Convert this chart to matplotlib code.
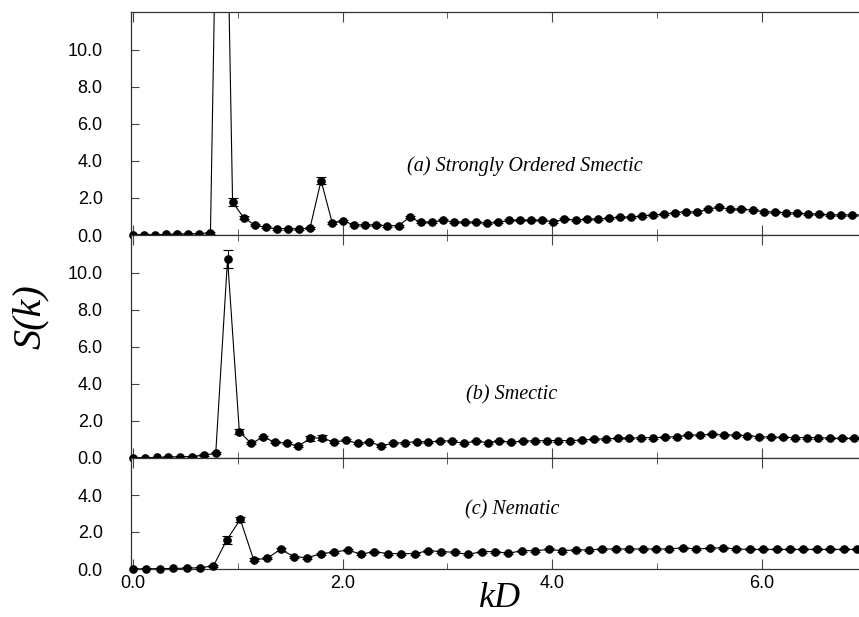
import matplotlib
matplotlib.use("Agg")
import matplotlib.pyplot as plt
from matplotlib.ticker import MultipleLocator, FixedLocator
import numpy as np

# k grid spacing (kD units) for each system
dk_a = 0.1056
dk_b = 0.1128
dk_c = 0.1280

# S(k), point 8 of (a) is far off scale
s_a = [0.00, 0.01, 0.02, 0.03, 0.04, 0.05, 0.07, 0.12, 35.0, 1.77,
       0.94, 0.54, 0.41, 0.34, 0.34, 0.32, 0.38, 2.94, 0.67, 0.76,
       0.54, 0.54, 0.54, 0.50, 0.50, 0.96, 0.69, 0.69, 0.81, 0.69,
       0.69, 0.69, 0.63, 0.69, 0.79, 0.79, 0.79, 0.79, 0.72, 0.85,
       0.81, 0.85, 0.86, 0.90, 0.96, 0.96, 1.03, 1.08, 1.12, 1.21,
       1.26, 1.23, 1.41, 1.50, 1.39, 1.39, 1.35, 1.26, 1.23, 1.21,
       1.17, 1.14, 1.12, 1.08, 1.08, 1.08, 1.06]
s_b = [0.02, 0.02, 0.03, 0.05, 0.07, 0.08, 0.16, 0.25, 10.76, 1.42,
       0.79, 1.12, 0.87, 0.79, 0.65, 1.06, 1.10, 0.85, 0.97, 0.79,
       0.85, 0.67, 0.79, 0.83, 0.88, 0.86, 0.92, 0.92, 0.79, 0.92,
       0.83, 0.92, 0.85, 0.92, 0.92, 0.94, 0.94, 0.94, 0.97, 1.01,
       1.03, 1.06, 1.06, 1.10, 1.10, 1.12, 1.15, 1.24, 1.24, 1.28,
       1.24, 1.24, 1.21, 1.15, 1.12, 1.12, 1.10, 1.10, 1.10, 1.06,
       1.06, 1.06, 1.05]
s_c = [0.00, 0.01, 0.02, 0.03, 0.04, 0.07, 0.17, 1.58, 2.68, 0.49,
       0.58, 1.06, 0.67, 0.61, 0.83, 0.91, 1.03, 0.80, 0.94, 0.83,
       0.83, 0.83, 0.99, 0.94, 0.90, 0.79, 0.94, 0.94, 0.85, 0.99,
       0.99, 1.06, 0.99, 1.03, 1.03, 1.08, 1.08, 1.08, 1.08, 1.08,
       1.08, 1.15, 1.08, 1.12, 1.15, 1.08, 1.06, 1.06, 1.06, 1.06,
       1.06, 1.06, 1.06, 1.06, 1.06]

# error bars that stand out, the rest are small
err_base = 0.05
err_a = {9: 0.22, 10: 0.10, 11: 0.07, 17: 0.17}
err_b = {8: 0.47, 9: 0.15, 15: 0.12, 16: 0.12}
err_c = {7: 0.23, 8: 0.14, 9: 0.08, 11: 0.08}

labels = ["(a) Strongly Ordered Smectic", "(b) Smectic", "(c) Nematic"]
label_pos = [(2.62, 3.73), (3.18, 3.4), (3.17, 3.19)]
ytop = [12.05, 12.05, 6.0]
yticks = [[0, 2, 4, 6, 8, 10], [0, 2, 4, 6, 8, 10], [0, 2, 4]]

fig = plt.figure(figsize=(8.59, 6.17), dpi=100)
left, width = 130.5 / 859, 1 - 130.5 / 859
rects = [(left, 382 / 617, width, 223 / 617),
         (left, 159 / 617, width, 223 / 617),
         (left, 48 / 617, width, 111 / 617)]

tick_font = dict(family="Liberation Sans", size=13)
serif_it = dict(family="Liberation Serif", style="italic")

for i, (s, dk, errs) in enumerate([(s_a, dk_a, err_a), (s_b, dk_b, err_b),
                                   (s_c, dk_c, err_c)]):
    ax = fig.add_axes(rects[i])
    s = np.array(s)
    k = dk * np.arange(len(s))
    e = np.full(len(s), err_base)
    for j, v in errs.items():
        e[j] = v
    e[s > ytop[i]] = 0

    ax.plot(k, s, color="black", lw=0.8)
    ax.errorbar(k, s, yerr=e, fmt="none", ecolor="black", elinewidth=0.7,
                capsize=3.5, capthick=0.8)
    keep = s <= ytop[i]
    ax.plot(k[keep], s[keep], "o", color="black", ms=5.2, clip_on=False,
            zorder=5)

    ax.set_xlim(-0.024, 6.93)
    ax.set_ylim(0, ytop[i])
    ax.yaxis.set_major_locator(FixedLocator(yticks[i]))
    ax.set_yticklabels([f"{v:.1f}" for v in yticks[i]], **tick_font)
    ax.xaxis.set_major_locator(MultipleLocator(2))
    ax.xaxis.set_minor_locator(MultipleLocator(1))
    ax.tick_params(axis="both", which="both", direction="in", top=True,
                   color="#444444")
    ax.tick_params(axis="y", length=6, pad=20)
    ax.tick_params(axis="x", which="major", length=7, pad=4)
    ax.tick_params(axis="x", which="minor", length=4)
    ax.spines["right"].set_visible(False)
    for sp in ["left", "top", "bottom"]:
        ax.spines[sp].set_color("#333333")
        ax.spines[sp].set_linewidth(0.9)
    if i < 2:
        ax.set_xticklabels([])
    else:
        ax.set_xticklabels([f"{v:.1f}" for v in ax.get_xticks()], **tick_font)
    ax.text(label_pos[i][0], label_pos[i][1], labels[i], ha="left",
            va="center", fontsize=14.5, **serif_it)

fig.text(30 / 859, 1 - 317 / 617, "S(k)", rotation=90, ha="center",
         va="center", fontsize=29, **serif_it)
fig.text(500 / 859, 1 - 582 / 617, "kD", ha="center", va="top",
         fontsize=26, **serif_it)

fig.savefig("out.png", dpi=100)
